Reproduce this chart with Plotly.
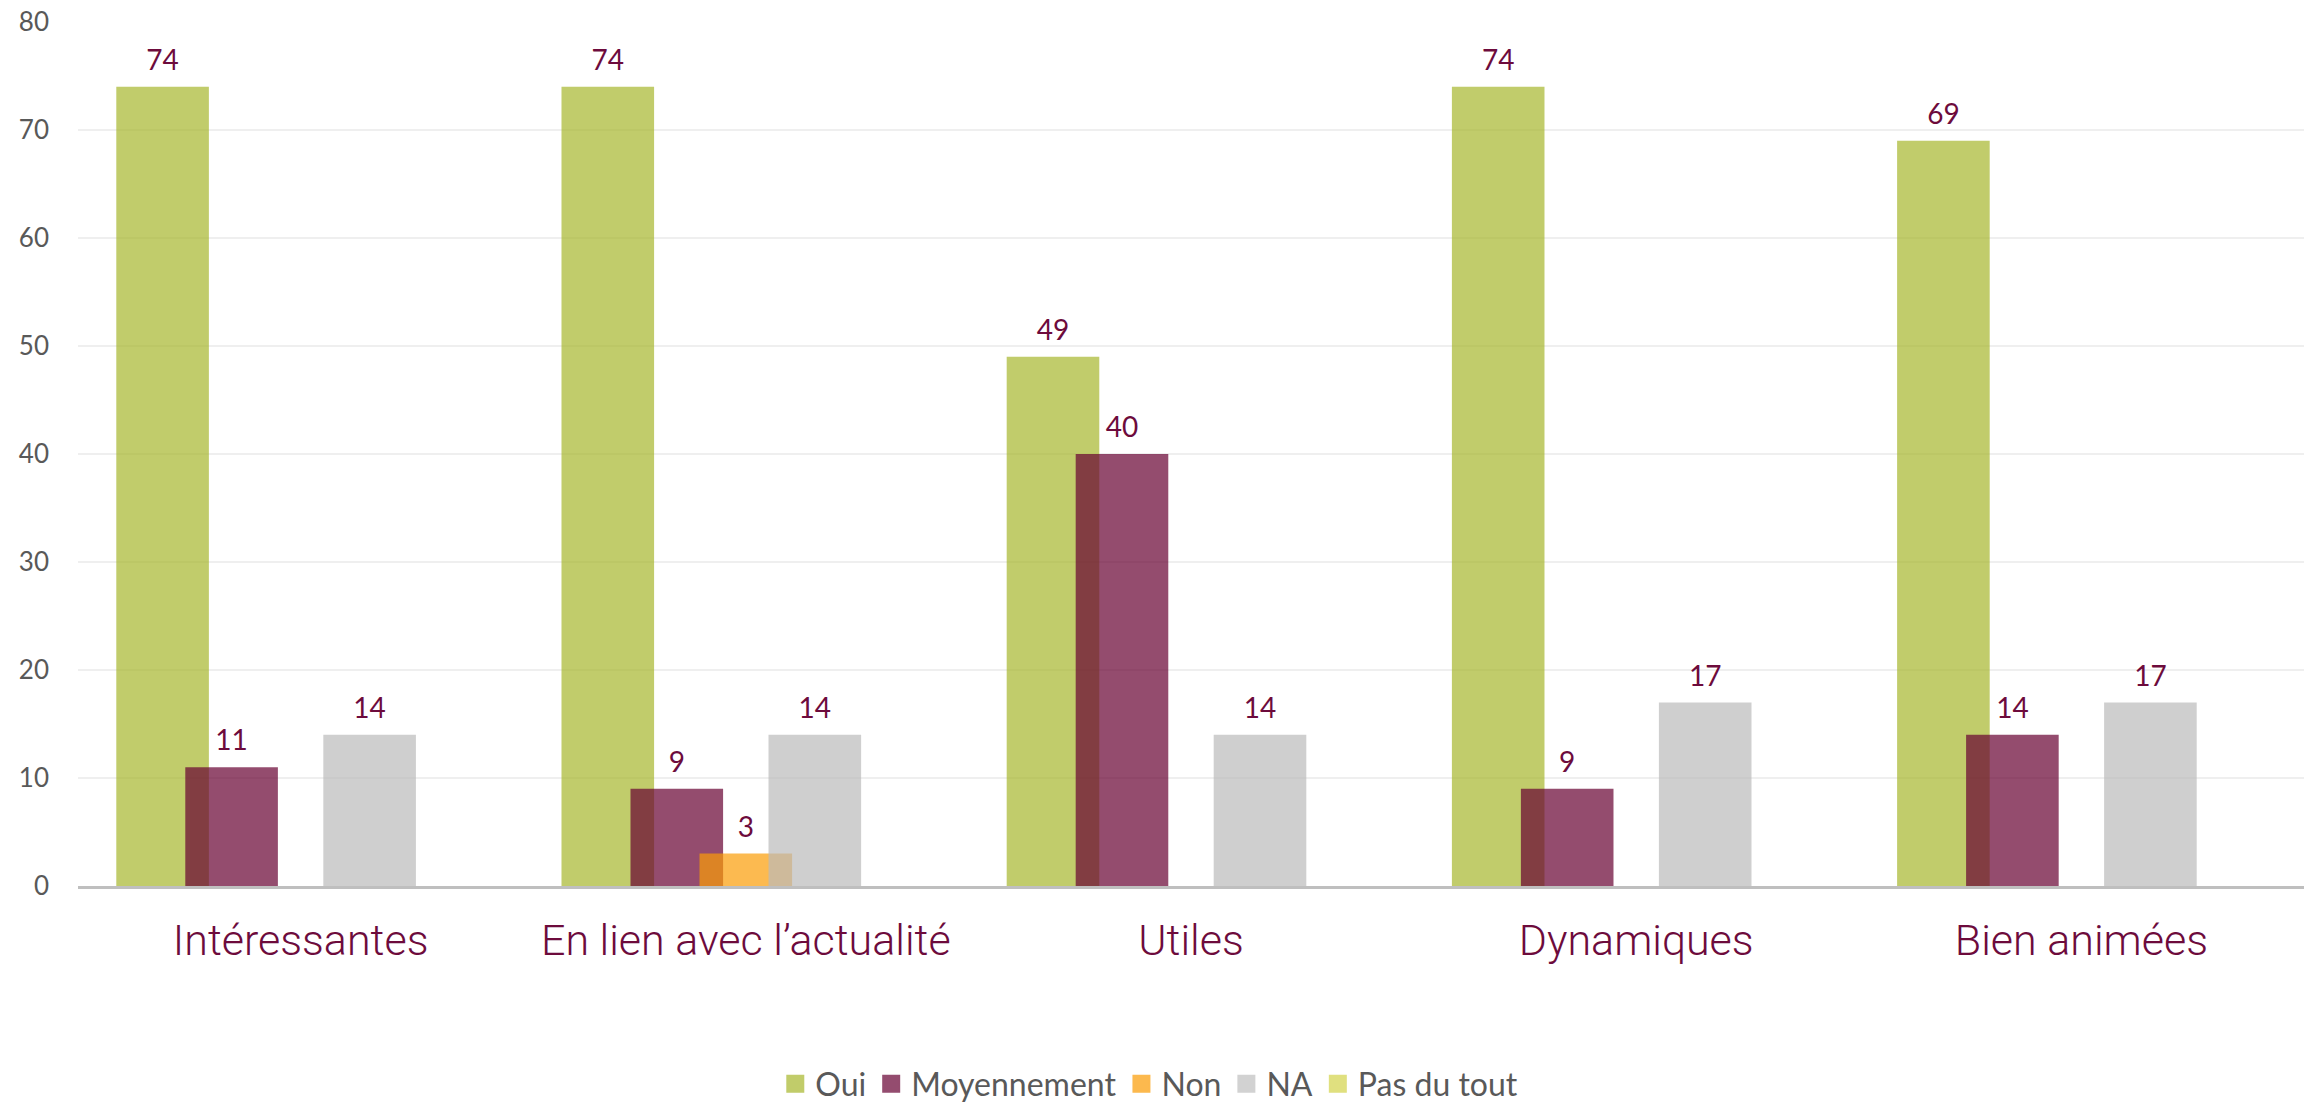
import plotly.graph_objects as go

categories = ["Intéressantes", "En lien avec l’actualité", "Utiles", "Dynamiques", "Bien animées"]
series_names = ["Oui", "Moyennement", "Non", "NA", "Pas du tout"]
oui = [74, 74, 49, 74, 69]
moyennement = [11, 9, 40, 9, 14]
non = [0, 3, 0, 0, 0]
na = [14, 14, 14, 17, 17]
pas_du_tout = [0, 0, 0, 0, 0]
y_ticks = [0, 10, 20, 30, 40, 50, 60, 70, 80]

series_values = [oui, moyennement, non, na, pas_du_tout]
colors = [
    "rgba(166,182,44,0.7)",
    "rgba(102,0,49,0.7)",
    "rgba(251,156,5,0.7)",
    "rgba(187,187,187,0.7)",
    "rgba(211,211,74,0.7)",
]
swatch_colors = ["#C1CC6A", "#944C6F", "#FCB94E", "#D2D2D2", "#E0E07F"]
LABEL_COLOR = "#6D0B3C"
BAR_W = 0.208
STEP = 0.155

fig = go.Figure()
idx = list(range(len(categories)))
for k, (name, vals, col) in enumerate(zip(series_names, series_values, colors)):
    off = (k - 2) * STEP
    xs = [i + off for i in idx]
    fig.add_trace(go.Bar(
        name=name,
        x=xs,
        y=vals,
        width=BAR_W,
        marker=dict(color=col, line=dict(width=0)),
        showlegend=False,
    ))
for k, vals in enumerate(series_values):
    off = (k - 2) * STEP
    xs = [i + off for i in idx]
    fig.add_trace(go.Scatter(
        x=xs, y=vals,
        mode="markers+text",
        text=[str(v) if v else "" for v in vals],
        textposition="top center",
        textfont=dict(family="Lato", size=28, color=LABEL_COLOR),
        marker=dict(size=14, opacity=0),
        showlegend=False, hoverinfo="skip",
        cliponaxis=False,
    ))
# legend entries (square swatches)
for name, col in zip(series_names, swatch_colors):
    fig.add_trace(go.Scatter(
        x=[None], y=[None], mode="markers", name=name,
        marker=dict(symbol="square", size=16, color=col, line=dict(color=col, width=2)),
    ))

fig.update_layout(
    width=2315, height=1102,
    barmode="overlay",
    plot_bgcolor="white", paper_bgcolor="white",
    margin=dict(l=70, r=19, t=14, b=224, autoexpand=False),
    showlegend=True,
    legend=dict(
        orientation="h", xref="container", x=0.493, xanchor="center",
        yref="container", y=0.0236, yanchor="middle",
        font=dict(family="Lato", size=32, color="#595959"),
        itemsizing="trace", traceorder="normal",
    ),
)
fig.update_xaxes(
    range=[-0.5, 4.5],
    tickmode="array", tickvals=idx, ticktext=categories,
    tickfont=dict(family="Roboto", weight=300, size=43, color=LABEL_COLOR),
    showline=True, linecolor="#BFBFBF", linewidth=3,
    showgrid=False, zeroline=False, ticks="",
    ticklabelstandoff=14,
)
fig.update_yaxes(
    range=[0, 80],
    tickmode="array", tickvals=y_ticks,
    tickfont=dict(family="Lato", size=26, color="#595959"),
    showgrid=True, gridcolor="#EFEFEF", gridwidth=2,
    zeroline=False, showline=False, ticks="",
    ticklabelstandoff=28, ticklabeloverflow="allow",
)

fig.write_html("out.html")
